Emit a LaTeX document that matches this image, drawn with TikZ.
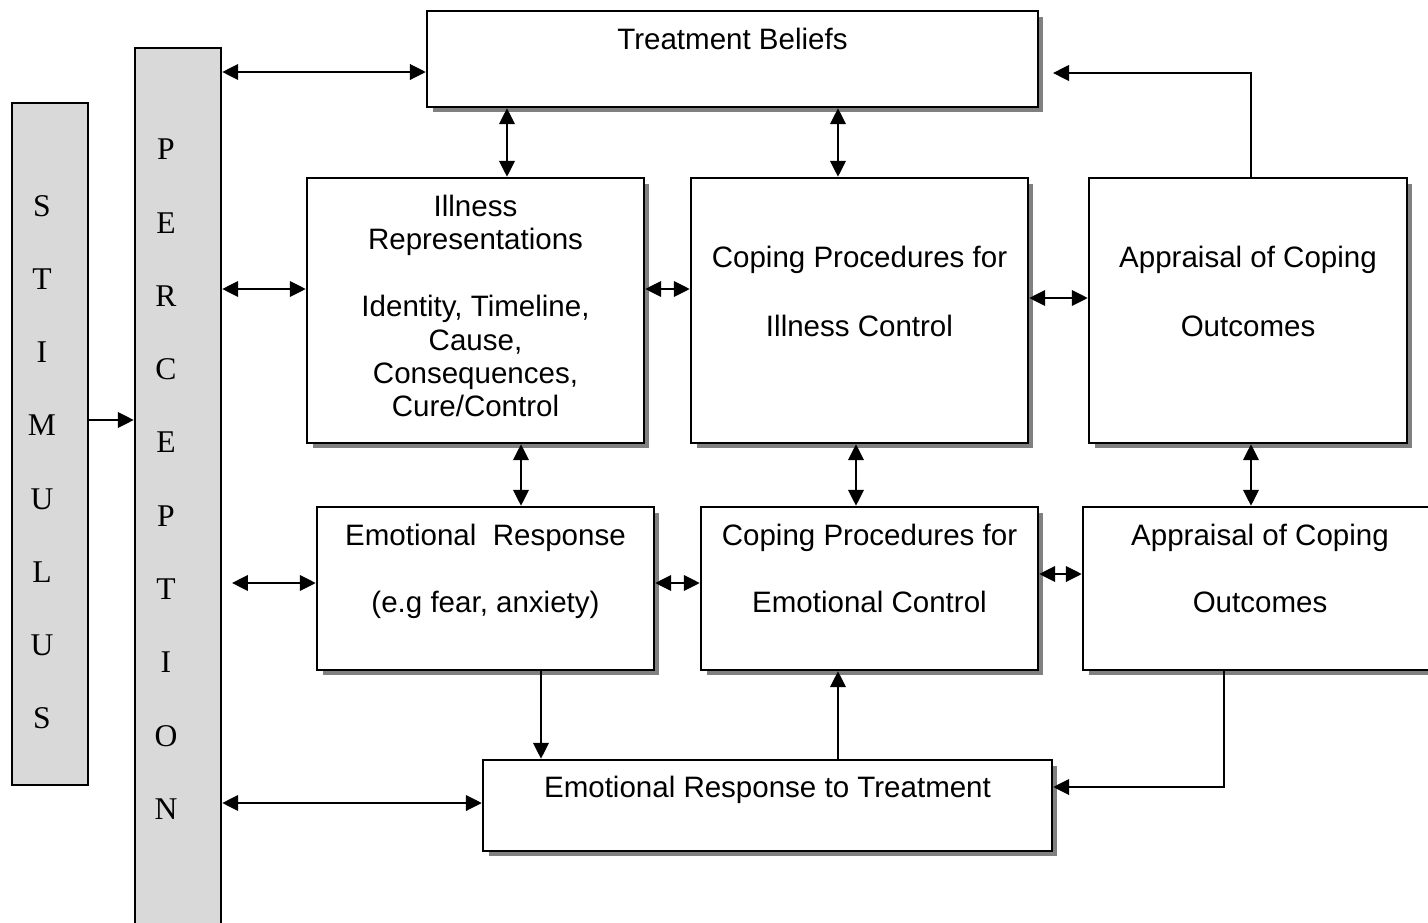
\documentclass[tikz,border=0pt]{standalone}
\usepackage{fontspec}
\setmainfont{Liberation Sans}
\newfontfamily\serifletters{Liberation Serif}
\usetikzlibrary{positioning,arrows.meta,shadows}

\begin{document}
\begin{tikzpicture}[x=0.02cm,y=-0.02cm]
			\tikzstyle{bx} = [draw, line width=1.4pt, fill=white, inner sep=0pt,
				drop shadow={shadow xshift=0.11cm, shadow yshift=-0.11cm, fill=black!50, opacity=1}]
			\tikzstyle{bar} = [draw, line width=1.4pt, fill=black!15, inner sep=0pt]
			\tikzstyle{txt} = [inner sep=0pt, align=center, font=\fontsize{16.8}{19}\selectfont]
			\tikzstyle{abc} = [inner sep=0pt, align=center, font=\serifletters\fontsize{18}{41.7}\selectfont]
			\tikzstyle{one} = [line width=1.4pt, -{Triangle[length=0.32cm, width=0.31cm]}]
			\tikzstyle{two} = [line width=1.4pt, {Triangle[length=0.32cm, width=0.31cm]}-{Triangle[length=0.32cm, width=0.31cm]}]
			\useasboundingbox (0,0) rectangle (1428,923);
			% side bars
			\node[bar, minimum width=1.52cm, minimum height=13.64cm] (stim) at (50,444) {};
			\node[bar, minimum width=1.72cm, minimum height=18.4cm] (perc) at (178,508) {};
			\node[abc, below=1.86cm of stim.north, xshift=-0.16cm] (stim-l) {S\\T\\I\\M\\U\\L\\U\\S};
			\node[abc, below=1.84cm of perc.north, xshift=-0.24cm] (perc-l) {P\\E\\R\\C\\E\\P\\T\\I\\O\\N};
			% boxes
			\node[bx, minimum width=12.22cm, minimum height=1.92cm] (tb) at (732.5,59) {};
			\node[bx, minimum width=6.74cm, minimum height=5.3cm] (ill) at (475.5,310.5) {};
			\node[bx, minimum width=6.74cm, minimum height=5.3cm] (cpi) at (859.5,310.5) {};
			\node[bx, minimum width=6.36cm, minimum height=5.3cm] (apt) at (1248,310.5) {};
			\node[bx, minimum width=6.74cm, minimum height=3.26cm] (emo) at (485.5,588.5) {};
			\node[bx, minimum width=6.74cm, minimum height=3.26cm] (cpe) at (869.5,588.5) {};
			\node[bx, minimum width=7.08cm, minimum height=3.26cm] (apb) at (1260,588.5) {};
			\node[bx, minimum width=11.38cm, minimum height=1.82cm] (ert) at (767.5,805.5) {};
			% box texts
			\node[txt, below=0.36cm of tb.north] (tb-t) {Treatment Beliefs};
			\node[txt, below=0.36cm of ill.north] (ill-t) {Illness\\Representations\\[19pt]Identity, Timeline,\\Cause,\\Consequences,\\Cure/Control};
			\node[txt, below=1.38cm of cpi.north] (cpi-t) {Coping Procedures for\\[20pt]Illness Control};
			\node[txt, below=1.38cm of apt.north] (apt-t) {Appraisal of Coping\\[20pt]Outcomes};
			\node[txt, below=0.36cm of emo.north] (emo-t) {Emotional\ \ Response\\[19pt](e.g fear, anxiety)};
			\node[txt, below=0.36cm of cpe.north] (cpe-t) {Coping Procedures for\\[19pt]Emotional Control};
			\node[txt, below=0.36cm of apb.north] (apb-t) {Appraisal of Coping\\[19pt]Outcomes};
			\node[txt, below=0.34cm of ert.north] (ert-t) {Emotional Response to Treatment};
			% arrows from the bars
			\draw[one] (stim.east |- 0,420) -- (perc.west |- 0,420);
			\draw[two] (perc.east |- 0,72) -- (tb.west |- 0,72);
			\draw[two] (perc.east |- 0,289) -- (ill.west |- 0,289);
			\coordinate (perc-emo) at (232,583);
			\draw[two] (perc-emo) -- (emo.west |- perc-emo);
			\draw[two] (perc.east |- 0,803) -- (ert.west |- 0,803);
			% arrows between boxes
			\draw[two] (tb.south -| 507,0) -- (ill.north -| 507,0);
			\draw[two] (tb.south -| 838,0) -- (cpi.north -| 838,0);
			\coordinate (tb-in) at (1053,73);
			\draw[one] (apt.north -| 1251,0) |- (tb-in);
			\draw[two] (ill.east |- 0,289) -- (cpi.west |- 0,289);
			\draw[two] (cpi.east |- 0,298) -- (apt.west |- 0,298);
			\draw[two] (ill.south -| 521,0) -- (emo.north -| 521,0);
			\draw[two] (cpi.south -| 856,0) -- (cpe.north -| 856,0);
			\draw[two] (apt.south -| 1251,0) -- (apb.north -| 1251,0);
			\draw[two] (emo.east |- 0,583) -- (cpe.west |- 0,583);
			\draw[two] (cpe.east |- 0,574) -- (apb.west |- 0,574);
			\draw[one] (emo.south -| 541,0) -- (ert.north -| 541,0);
			\draw[one] (ert.north -| 838,0) -- (cpe.south -| 838,0);
			\draw[one] (apb.south -| 1224,0) |- (ert.east |- 0,787);
\end{tikzpicture}
\end{document}
